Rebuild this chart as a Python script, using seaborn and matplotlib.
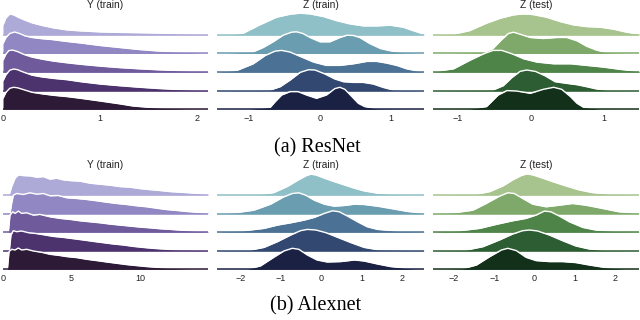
import matplotlib
matplotlib.use('Agg')
import matplotlib.pyplot as plt
import seaborn as sns

# ridge heights (arbitrary density units), one list per ridge, top -> bottom

# (a) ResNet, Y (train)
resnet_ytrain_x = [
    [0, 0.03, 0.07, 0.11, 0.16, 0.22, 0.3, 0.4, 0.52, 0.66, 0.8, 1.0, 1.2, 1.4, 1.6, 1.8, 2.0, 2.11],
    [0, 0.03, 0.07, 0.12, 0.17, 0.23, 0.3, 0.4, 0.5, 0.66, 0.8, 1.0, 1.2, 1.4, 1.6, 1.8, 2.0, 2.11],
    [0, 0.03, 0.06, 0.1, 0.15, 0.22, 0.3, 0.4, 0.52, 0.66, 0.8, 1.0, 1.2, 1.4, 1.6, 1.8, 2.0, 2.11],
    [0, 0.03, 0.07, 0.11, 0.15, 0.2, 0.3, 0.4, 0.52, 0.66, 0.8, 1.0, 1.2, 1.4, 1.6, 1.8, 2.0, 2.11],
    [0, 0.03, 0.07, 0.11, 0.15, 0.2, 0.3, 0.4, 0.52, 0.66, 0.8, 1.0, 1.2, 1.34, 1.5, 1.7, 1.9, 2.11],
]
resnet_ytrain_h = [
    [10, 17, 21, 20, 17.5, 15, 12, 9.5, 7, 5, 4, 3, 2.5, 2.2, 1.8, 1.3, 0.8, 0.6],
    [10, 16, 20, 21.5, 20, 17.5, 16, 14.8, 14, 12, 10.5, 8, 6, 4, 2.5, 1.6, 0.8, 0.5],
    [12, 18, 21.5, 22, 20.5, 17.5, 15, 13, 11, 9.3, 7.8, 6, 4.5, 3.3, 2.3, 1.5, 0.8, 0.5],
    [10, 16, 20.5, 21.7, 21, 19, 15.5, 13.8, 12.3, 11, 9, 6.7, 5, 3.5, 2.2, 1.2, 0.6, 0.4],
    [11, 17, 21, 22, 21.5, 20, 17, 15.5, 14, 12.7, 11, 8.3, 5.5, 3.3, 2, 1, 0.5, 0.3],
]

# (a) ResNet, Z (train)
resnet_ztrain_x = [
    [-1.45, -1.27, -1.08, -0.85, -0.61, -0.42, -0.28, -0.14, 0.05, 0.23, 0.42, 0.61, 0.8, 0.99, 1.17, 1.31, 1.465],
    [-1.43, -0.94, -0.8, -0.66, -0.52, -0.4, -0.33, -0.24, -0.14, 0.0, 0.14, 0.28, 0.38, 0.47, 0.56, 0.7, 0.85, 0.99, 1.17, 1.46],
    [-1.43, -1.17, -0.94, -0.77, -0.63, -0.54, -0.42, -0.28, -0.09, 0.09, 0.28, 0.47, 0.66, 0.8, 0.94, 1.08, 1.22, 1.36, 1.46],
    [-1.43, -0.7, -0.56, -0.42, -0.28, -0.16, -0.07, 0.07, 0.21, 0.33, 0.47, 0.61, 0.75, 0.89, 1.03, 1.46],
    [-1.43, -0.99, -0.7, -0.63, -0.54, -0.42, -0.31, -0.19, -0.05, 0.09, 0.21, 0.28, 0.35, 0.45, 0.54, 0.63, 0.8, 1.46],
]
resnet_ztrain_h = [
    [0, 0.3, 1.7, 10, 17.7, 20.7, 21.7, 21, 18.3, 14.3, 11, 9, 9, 9.7, 7.7, 4.3, 0.7],
    [0, 1.7, 6, 11.7, 18.3, 21.3, 21.7, 20, 16, 11.7, 11.7, 16, 18.3, 18, 16, 10, 5, 2.7, 1, 0.3],
    [0.3, 1.7, 8.3, 16.7, 21, 21.7, 20, 15.7, 10, 6.7, 6.7, 8.3, 10.7, 10.7, 9, 6.7, 3.3, 1.3, 0.3],
    [0, 0.7, 4, 10.7, 18.3, 21, 20.7, 16.7, 11.7, 9, 8.3, 8.3, 6.7, 3.3, 0.7, 0],
    [0, 0.3, 2, 7.7, 14.3, 17.7, 17.7, 14.3, 11, 14.3, 20.7, 22, 20, 12.7, 6, 2.7, 0.7, 0],
]

# (a) ResNet, Z (test)
resnet_ztest_x = [
    [-1.34, -1.06, -0.84, -0.61, -0.42, -0.24, -0.11, 0.03, 0.21, 0.4, 0.58, 0.76, 0.95, 1.13, 1.31, 1.49],
    [-1.34, -0.65, -0.52, -0.4, -0.31, -0.24, -0.15, -0.01, 0.17, 0.35, 0.49, 0.63, 0.76, 0.9, 1.04, 1.49],
    [-1.34, -1.06, -0.84, -0.65, -0.52, -0.4, -0.26, -0.1, 0.08, 0.31, 0.54, 0.76, 0.99, 1.22, 1.49],
    [-1.34, -0.52, -0.38, -0.26, -0.15, -0.06, 0.06, 0.19, 0.33, 0.49, 0.63, 0.76, 0.9, 1.08, 1.49],
    [-1.34, -0.84, -0.61, -0.54, -0.45, -0.33, -0.2, -0.01, 0.17, 0.31, 0.42, 0.54, 0.63, 0.72, 0.95, 1.49],
]
resnet_ztest_h = [
    [0, 0.7, 4.3, 11.7, 16.7, 20, 21, 20.3, 17.7, 13.3, 10, 8.3, 7.7, 5.7, 2.7, 0.7],
    [0, 1, 5, 14, 20, 21.3, 19.3, 16, 15, 16, 16, 12.7, 7.3, 3.3, 1, 0],
    [0.3, 3.3, 11.7, 18.3, 21.7, 21.7, 18.3, 13.3, 10, 8.3, 8.3, 6.7, 5, 2.7, 0.7],
    [0, 0.7, 5, 13.3, 19.3, 20.7, 19.3, 15, 9, 7.3, 6, 4, 1.7, 0.3, 0],
    [0, 0.3, 2.7, 7.7, 14.3, 18.7, 18.3, 16, 20, 22, 20, 12.7, 6, 2, 0.3, 0],
]

# (b) Alexnet, Y (train)
alexnet_ytrain_x = [
    [0.02, 0.46, 0.63, 0.88, 1.12, 1.48, 1.97, 2.46, 2.94, 3.43, 3.92, 4.4, 4.89, 5.62, 6.35, 7.08, 7.81, 8.54, 9.27, 10.0, 10.7, 11.5, 12.2, 12.9, 13.7, 14.4, 15.0],
    [0.51, 0.63, 0.75, 1.0, 1.48, 1.97, 2.46, 2.94, 3.43, 4.04, 4.65, 5.38, 6.11, 6.84, 7.57, 8.3, 9.03, 9.76, 10.5, 11.2, 11.9, 12.7, 13.4, 14.4, 15.0],
    [0.39, 0.51, 0.71, 0.88, 1.12, 1.36, 1.73, 2.21, 2.7, 3.43, 4.16, 4.89, 5.62, 6.35, 7.08, 7.81, 8.54, 9.27, 10.0, 10.7, 11.5, 12.2, 12.9, 13.7, 14.4, 15.0],
    [0.46, 0.58, 0.75, 1.0, 1.36, 1.85, 2.34, 2.94, 3.67, 4.4, 5.13, 5.86, 6.59, 7.32, 8.05, 8.78, 9.51, 10.2, 11.0, 11.7, 12.4, 13.4, 14.4, 15.0],
    [0.32, 0.44, 0.63, 0.88, 1.12, 1.36, 1.73, 2.21, 2.82, 3.43, 4.04, 4.65, 5.38, 6.11, 6.84, 7.57, 8.3, 9.03, 9.76, 10.5, 11.2, 11.9, 12.9, 13.9, 15.0],
]
alexnet_ytrain_h = [
    [0, 0.3, 8.3, 16.7, 20, 19.3, 19, 17.7, 18.3, 15.7, 16.7, 15, 14.3, 13.7, 11.7, 10.7, 9.7, 8.3, 7.7, 6.3, 5.3, 4.3, 3.3, 2.7, 2, 1.3, 0.7],
    [0, 10, 18.3, 20, 19, 20.7, 19.3, 20, 17.7, 18, 15.7, 15, 14, 12.7, 11.3, 10, 9, 7.7, 6.7, 5.3, 4, 3, 2, 1, 0.3],
    [0, 17, 20.3, 18.7, 21, 18.7, 19.3, 17, 17.7, 15.3, 13.7, 12.7, 11.3, 10.3, 9.3, 8, 7, 6, 5, 4.3, 3.3, 2.7, 2, 1.3, 0.7, 0.3],
    [0, 15.7, 20, 19, 19.7, 18, 17.3, 16, 14.3, 13.3, 12, 10.7, 9.3, 8, 6.7, 5.7, 4.3, 3.3, 2.3, 1.7, 1, 0.7, 0.3, 0],
    [0, 17.7, 20, 19.3, 21.3, 19.3, 20, 18.3, 17, 15, 14, 12.7, 11.7, 10, 8.7, 7.3, 6, 4.7, 3.7, 2.7, 2, 1.3, 0.7, 0.3, 0],
]

# (b) Alexnet, Z (train)
alexnet_ztrain_x = [
    [-2.5, -1.51, -1.18, -0.85, -0.6, -0.39, -0.27, -0.14, 0.07, 0.31, 0.56, 0.81, 1.05, 1.38, 1.88, 2.53],
    [-2.58, -2.08, -1.67, -1.26, -0.93, -0.72, -0.56, -0.39, -0.18, 0.07, 0.31, 0.56, 0.81, 1.05, 1.38, 1.71, 2.13, 2.53],
    [-2.58, -1.92, -1.42, -1.09, -0.76, -0.43, -0.18, 0.07, 0.27, 0.44, 0.64, 0.89, 1.13, 1.38, 1.88, 2.53],
    [-2.58, -1.75, -1.42, -1.09, -0.76, -0.52, -0.35, -0.14, 0.11, 0.4, 0.73, 1.05, 1.38, 2.53],
    [-2.58, -1.83, -1.51, -1.18, -0.93, -0.72, -0.56, -0.35, -0.11, 0.14, 0.47, 0.81, 1.05, 1.38, 1.71, 2.21, 2.53],
]
alexnet_ztrain_h = [
    [0, 0.3, 2.3, 8.3, 14.3, 19, 20.7, 20, 16.7, 13.3, 10, 6.7, 4, 1.7, 0.3, 0],
    [0, 1, 3.3, 9.3, 16.7, 20, 20.7, 18.3, 13.3, 9.3, 7.3, 8, 9.3, 9, 7.3, 5, 2, 0.3],
    [0.3, 1.3, 3.7, 7, 9.3, 12, 14.7, 18.7, 21.3, 20.3, 16, 10.3, 5.3, 2.7, 1, 0.3],
    [0, 0.7, 3.3, 9, 15.7, 20, 21.3, 20.7, 18, 13.3, 8, 3.3, 1, 0.3],
    [0, 0.3, 3.3, 12, 18.3, 21, 20, 14.3, 9.3, 7.3, 7.7, 9.3, 8.3, 5.3, 2.7, 0.7, 0],
]

# (b) Alexnet, Z (test)
alexnet_ztest_x = [
    [-2.52, -1.44, -1.11, -0.78, -0.54, -0.33, -0.19, -0.04, 0.21, 0.45, 0.78, 1.11, 1.44, 1.94, 2.6],
    [-2.52, -1.94, -1.53, -1.2, -0.87, -0.66, -0.5, -0.29, -0.04, 0.29, 0.62, 0.95, 1.28, 1.61, 2.1, 2.6],
    [-2.52, -1.86, -1.36, -0.95, -0.54, -0.21, 0.04, 0.25, 0.41, 0.62, 0.87, 1.2, 1.53, 2.1, 2.6],
    [-2.52, -1.69, -1.28, -0.87, -0.54, -0.29, -0.12, 0.08, 0.37, 0.7, 1.03, 1.36, 1.77, 2.6],
    [-2.52, -1.77, -1.44, -1.11, -0.82, -0.66, -0.45, -0.21, 0.04, 0.37, 0.7, 1.03, 1.36, 1.77, 2.27, 2.6],
]
alexnet_ztest_h = [
    [0, 0.7, 3.3, 9, 15, 19.3, 21, 20, 16.7, 13.3, 9, 5, 2.3, 0.7, 0],
    [0, 1, 3.3, 10, 17.3, 20.7, 20, 15, 9.3, 6.7, 8.3, 10, 8.3, 5.7, 1.7, 0.3],
    [0.3, 1.3, 3.7, 7.7, 11.3, 13.7, 17, 21, 20.3, 16, 10.3, 4.7, 2, 0.7, 0.3],
    [0, 0.7, 4, 10.7, 16.7, 20, 20.7, 19.7, 15.7, 10, 4.7, 1.7, 0.3, 0],
    [0, 0.7, 4.3, 12.7, 19.3, 21, 18.7, 12, 8.7, 7.7, 7.7, 6.7, 4.3, 1.7, 0.3, 0],
]

purples = ["#aeaad8", "#9087c3", "#6f5a9c", "#4d336e", "#2c1a37"]
blues = ["#8fc0c7", "#6a9db0", "#4b7294", "#334870", "#1b2143"]
greens = ["#a8c48e", "#7ea96a", "#4e8448", "#2d5d32", "#12301a"]

STEP = 18.6  # vertical gap between ridges


def ridge(ax, xs_list, hs_list, colors, xlim, ticks, title):
    n = len(xs_list)
    for i, (xs, hs, c) in enumerate(zip(xs_list, hs_list, colors)):
        base = (n - 1 - i) * STEP
        ys = [base + v for v in hs]
        ax.fill_between(xs, base, ys, color=c, lw=0, zorder=3 * i)
        sns.lineplot(x=xs, y=ys, ax=ax, color='white', lw=1.0, zorder=3 * i + 1,
                     estimator=None, sort=False)
        # coloured base line drawn over the outline so it stays visible
        ax.axhline(base, color=c, lw=1.1, zorder=3 * i + 2)
    ax.set_xlim(xlim)
    ax.set_ylim(-2, (n - 1) * STEP + 24)
    ax.set_xticks(ticks)
    ax.set_yticks([])
    ax.tick_params(axis='x', length=0, pad=2, labelsize=6.5, colors='#222222')
    ax.text(0.5, 1.055, title, transform=ax.transAxes, ha='center', va='center',
            fontsize=7.3, color='#222222')
    sns.despine(ax=ax, left=True, bottom=True)


def main():
    sns.set_theme(style='white', rc={'axes.facecolor': (0, 0, 0, 0)})
    plt.rcParams['font.family'] = ['Liberation Sans', 'DejaVu Sans']

    fig = plt.figure(figsize=(6.4, 3.2), dpi=100)
    h = 100.4 / 320
    cols = [(3, 205), (217, 207), (433, 206)]

    top = [fig.add_axes([l / 640, 1 - 111.3 / 320, w / 640, h]) for l, w in cols]
    bot = [fig.add_axes([l / 640, 1 - 271.3 / 320, w / 640, h]) for l, w in cols]

    ridge(top[0], resnet_ytrain_x, resnet_ytrain_h, purples, (0, 2.113), [0, 1, 2], 'Y (train)')
    ridge(top[1], resnet_ztrain_x, resnet_ztrain_h, blues, (-1.45, 1.465), [-1, 0, 1], 'Z (train)')
    ridge(top[2], resnet_ztest_x, resnet_ztest_h, greens, (-1.342, 1.479), [-1, 0, 1], 'Z (test)')

    ridge(bot[0], alexnet_ytrain_x, alexnet_ytrain_h, purples, (0, 14.96), [0, 5, 10], 'Y (train)')
    ridge(bot[1], alexnet_ztrain_x, alexnet_ztrain_h, blues, (-2.58, 2.53), [-2, -1, 0, 1, 2], 'Z (train)')
    ridge(bot[2], alexnet_ztest_x, alexnet_ztest_h, greens, (-2.52, 2.6), [-2, -1, 0, 1, 2], 'Z (test)')

    fig.text(317.5 / 640, 1 - 147.5 / 320, '(a) ResNet', ha='center', va='center',
             family=['Liberation Serif', 'DejaVu Serif'], fontsize=14.5, color='black')
    fig.text(316 / 640, 1 - 305.5 / 320, '(b) Alexnet', ha='center', va='center',
             family=['Liberation Serif', 'DejaVu Serif'], fontsize=14.5, color='black')

    fig.savefig('out.png', dpi=100)


if __name__ == "__main__":
    main()
